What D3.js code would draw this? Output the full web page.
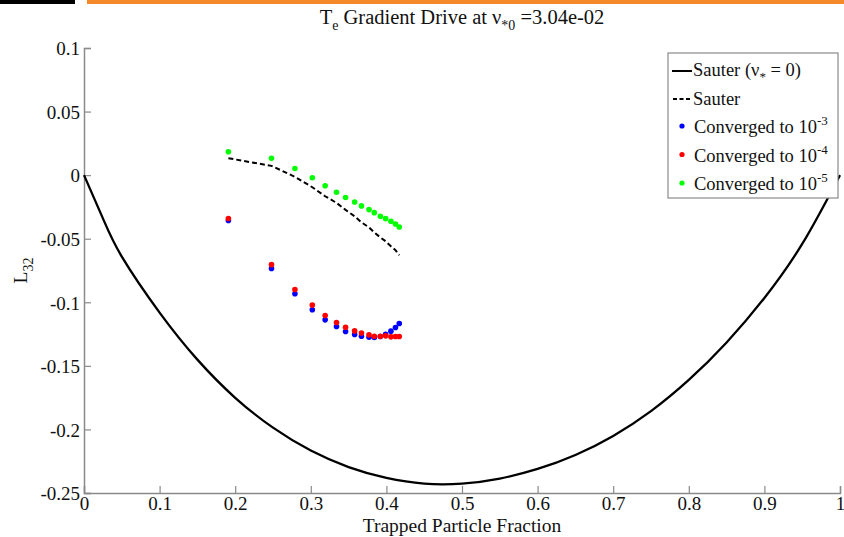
<!DOCTYPE html>
<html>
<head>
<meta charset="utf-8">
<script src="https://cdn.jsdelivr.net/npm/d3@7"></script>
<style>
  body { margin: 0; background: #fff; }
  text { font-family: "Liberation Serif", "Times New Roman", serif; fill: #111; }
</style>
</head>
<body>
<div class="chart"></div>
<script>
// Data

// trapped particle fraction, full range (Sauter nu* = 0 curve)
var fullX = [0, 0.025, 0.05, 0.1, 0.15, 0.2, 0.25, 0.3, 0.35, 0.4, 0.45, 0.5,
  0.55, 0.6, 0.65, 0.7, 0.75, 0.8, 0.85, 0.9, 0.95, 1];
var sauterZero = [0, -0.034, -0.0641, -0.1081, -0.1451, -0.1751, -0.1986, -0.2166,
  -0.2296, -0.2381, -0.2426, -0.2426, -0.2386, -0.2311, -0.2201, -0.2051, -0.1856,
  -0.1611, -0.1316, -0.0966, -0.0541, 0];

// trapped fraction of the computed cases
var fracX = [0.191, 0.248, 0.279, 0.302, 0.319, 0.334, 0.346, 0.358, 0.367, 0.377,
  0.384, 0.392, 0.399, 0.406, 0.412, 0.417];
var sauter = [0.0133, 0.0073, -0.0013, -0.0095, -0.0166, -0.0218, -0.0273, -0.0324,
  -0.0371, -0.0411, -0.045, -0.049, -0.052, -0.056, -0.059, -0.063];
var conv3 = [-0.0357, -0.0734, -0.0933, -0.1059, -0.1138, -0.1190, -0.1230, -0.1253,
  -0.1267, -0.1275, -0.1277, -0.1269, -0.1251, -0.1227, -0.1198, -0.1167];
var conv4 = [-0.0341, -0.0704, -0.0899, -0.1022, -0.1104, -0.1159, -0.1196, -0.1225,
  -0.1241, -0.1256, -0.1267, -0.1267, -0.1264, -0.1272, -0.1269, -0.1269];
var conv5 = [0.0184, 0.0132, 0.0052, -0.0021, -0.0084, -0.0134, -0.0176, -0.0211,
  -0.0242, -0.0271, -0.0295, -0.0324, -0.0342, -0.0363, -0.0384, -0.0408];

var xTicks = [0, 0.1, 0.2, 0.3, 0.4, 0.5, 0.6, 0.7, 0.8, 0.9, 1];
var yTicks = [0.1, 0.05, 0, -0.05, -0.1, -0.15, -0.2, -0.25];

// Step 1: Set up chart
var svgWidth = 844;
var svgHeight = 537;

var margin = { top: 48, right: 4, bottom: 44, left: 84 };
var width = svgWidth - margin.left - margin.right;
var height = svgHeight - margin.top - margin.bottom;

var svg = d3.select(".chart")
  .append("svg")
  .attr("width", svgWidth)
  .attr("height", svgHeight);

// header bars at the very top
svg.append("rect").attr("x", 0).attr("y", 0).attr("width", 75).attr("height", 4).attr("fill", "#000");
svg.append("rect").attr("x", 87).attr("y", 0).attr("width", svgWidth - 87).attr("height", 4).attr("fill", "#f5892a");

var chartGroup = svg.append("g")
  .attr("transform", `translate(${margin.left}, ${margin.top})`);

// Step 2: scales
var xLinearScale = d3.scaleLinear().domain([0, 1]).range([0, width]);
var yLinearScale = d3.scaleLinear().domain([-0.25, 0.1]).range([height, 0]);

var fmt = d => (d === 0 ? "0" : String(+d.toFixed(2)));

// Step 3: axes (ticks point inward, like matlab)
var bottomAxis = d3.axisBottom(xLinearScale).tickValues(xTicks).tickSize(-7).tickPadding(4).tickFormat(fmt);
var leftAxis = d3.axisLeft(yLinearScale).tickValues(yTicks).tickSize(-7).tickPadding(4).tickFormat(fmt);

var xAxis = chartGroup.append("g")
  .attr("transform", `translate(0, ${height})`)
  .call(bottomAxis);

var yAxis = chartGroup.append("g")
  .call(leftAxis);

[xAxis, yAxis].forEach(function(ax) {
  ax.attr("font-family", null);
  ax.select(".domain").attr("stroke", "#8a8a8a").attr("stroke-width", 1.5);
  ax.selectAll(".tick line").attr("stroke", "#8a8a8a").attr("stroke-width", 1.2);
  ax.selectAll(".tick text")
    .style("font-family", "'Liberation Serif', serif")
    .style("font-size", "19px")
    .attr("fill", "#111");
});
xAxis.selectAll(".tick text").attr("y", 3).attr("dy", "0.72em");
yAxis.selectAll(".tick text").attr("dy", "0.36em");

// Step 4: lines
var line = d3.line()
  .x(d => xLinearScale(d[0]))
  .y(d => yLinearScale(d[1]));

chartGroup.append("path")
  .datum(fullX.map((x, i) => [x, sauterZero[i]]))
  .attr("fill", "none")
  .attr("stroke", "#000")
  .attr("stroke-width", 2.3)
  .attr("d", line.curve(d3.curveNatural));

chartGroup.append("path")
  .datum(fracX.map((x, i) => [x, sauter[i]]))
  .attr("fill", "none")
  .attr("stroke", "#000")
  .attr("stroke-width", 2)
  .attr("stroke-dasharray", "5,3")
  .attr("d", line.curve(d3.curveLinear));

// Step 5: converged points
var series = [
  { vals: conv3, color: "#0000ff" },
  { vals: conv4, color: "#ff0000" },
  { vals: conv5, color: "#00ff00" }
];

series.forEach(function(s) {
  chartGroup.append("g").selectAll("circle")
    .data(fracX.map((x, i) => [x, s.vals[i]]))
    .enter()
    .append("circle")
    .attr("cx", d => xLinearScale(d[0]))
    .attr("cy", d => yLinearScale(d[1]))
    .attr("r", 2.8)
    .attr("fill", s.color);
});

// Step 6: labels
var title = svg.append("text")
  .attr("x", margin.left + width / 2)
  .attr("y", 24)
  .attr("text-anchor", "middle")
  .style("font-size", "20.5px");
title.append("tspan").text("T");
title.append("tspan").attr("dy", 6).style("font-size", "14px").text("e");
title.append("tspan").attr("dy", -6).text(" Gradient Drive at \u03bd");
title.append("tspan").attr("dy", 6).style("font-size", "14px").text("*0");
title.append("tspan").attr("dy", -6).text(" =3.04e-02");

svg.append("text")
  .attr("x", margin.left + width / 2)
  .attr("y", 532)
  .attr("text-anchor", "middle")
  .style("font-size", "19.5px")
  .text("Trapped Particle Fraction");

var ylab = svg.append("text")
  .attr("transform", `translate(27, ${margin.top + height / 2}) rotate(-90)`)
  .attr("text-anchor", "middle")
  .style("font-size", "19.5px");
ylab.append("tspan").text("L");
ylab.append("tspan").attr("dy", 6).style("font-size", "14px").text("32");

// Step 7: legend
var legend = svg.append("g").attr("transform", "translate(668, 53)");
legend.append("rect")
  .attr("width", 170)
  .attr("height", 145)
  .attr("fill", "#fff")
  .attr("stroke", "#8a8a8a")
  .attr("stroke-width", 1.2);

legend.append("line").attr("x1", 4).attr("x2", 24).attr("y1", 18).attr("y2", 18)
  .attr("stroke", "#000").attr("stroke-width", 2);
var l1 = legend.append("text").attr("x", 25).attr("y", 23).style("font-size", "18.5px");
l1.append("tspan").text("Sauter (\u03bd");
l1.append("tspan").attr("dy", 5).style("font-size", "13px").text("*");
l1.append("tspan").attr("dy", -5).text(" = 0)");

legend.append("line").attr("x1", 5).attr("x2", 24).attr("y1", 46).attr("y2", 46)
  .attr("stroke", "#000").attr("stroke-width", 2).attr("stroke-dasharray", "4,2.5");
legend.append("text").attr("x", 25).attr("y", 52).style("font-size", "18.5px").text("Sauter");

var expLabels = ["-3", "-4", "-5"];
series.forEach(function(s, i) {
  var yy = 73 + i * 28.5;
  legend.append("circle").attr("cx", 14).attr("cy", yy).attr("r", 2.6).attr("fill", s.color);
  var t = legend.append("text").attr("x", 26).attr("y", yy + 7).style("font-size", "18.5px");
  t.append("tspan").text("Converged to 10");
  t.append("tspan").attr("dy", -8).style("font-size", "13px").text(expLabels[i]);
});
</script>
</body>
</html>
